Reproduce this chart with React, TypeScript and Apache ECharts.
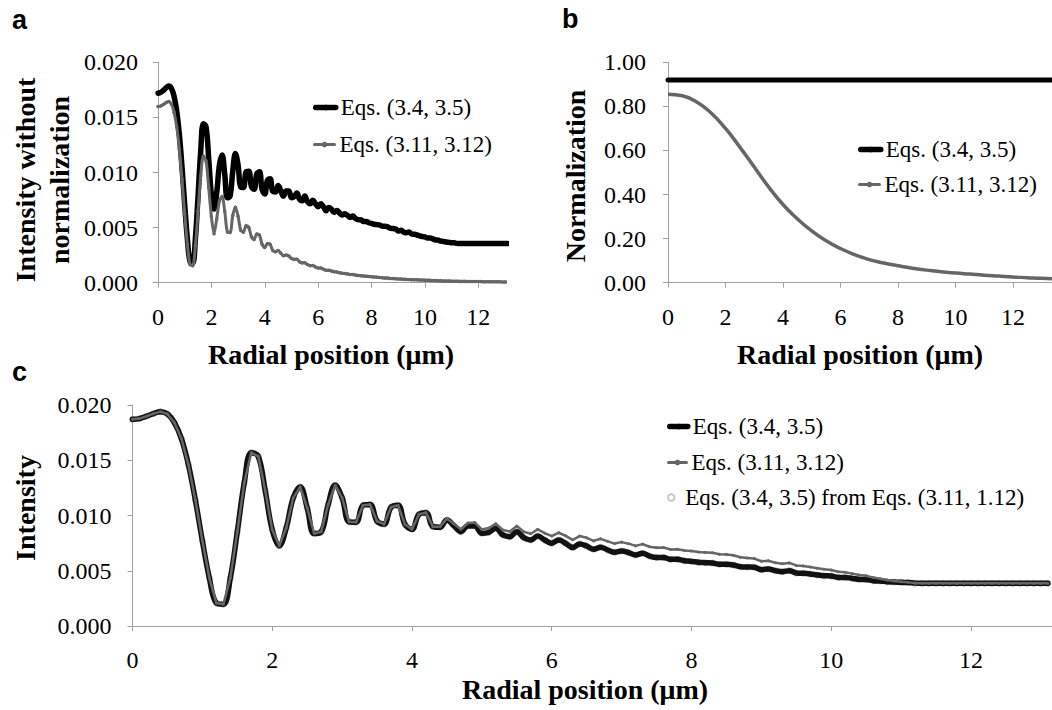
import React, { useEffect, useRef } from "react";
import * as echarts from "echarts";

// Radial positions (µm) for panels a and c
const RADIUS = [
  0, 0.1, 0.2, 0.3, 0.4, 0.5, 0.6, 0.7, 0.8, 0.9,
  1, 1.1, 1.2, 1.3, 1.4, 1.5, 1.6, 1.7, 1.8, 1.9,
  2, 2.1, 2.2, 2.3, 2.4, 2.5, 2.6, 2.7, 2.8, 2.9,
  3, 3.1, 3.2, 3.3, 3.4, 3.5, 3.6, 3.7, 3.8, 3.9,
  4, 4.1, 4.2, 4.3, 4.4, 4.5, 4.6, 4.7, 4.8, 4.9,
  5, 5.1, 5.2, 5.3, 5.4, 5.5, 5.6, 5.7, 5.8, 5.9,
  6, 6.1, 6.2, 6.3, 6.4, 6.5, 6.6, 6.7, 6.8, 6.9,
  7, 7.1, 7.2, 7.3, 7.4, 7.5, 7.6, 7.7, 7.8, 7.9,
  8, 8.1, 8.2, 8.3, 8.4, 8.5, 8.6, 8.7, 8.8, 8.9,
  9, 9.1, 9.2, 9.3, 9.4, 9.5, 9.6, 9.7, 9.8, 9.9,
  10, 10.1, 10.2, 10.3, 10.4, 10.5, 10.6, 10.7, 10.8, 10.9,
  11, 11.1, 11.2, 11.3, 11.4, 11.5, 11.6, 11.7, 11.8, 11.9,
  12, 12.1, 12.2, 12.3, 12.4, 12.5, 12.6, 12.7, 12.8, 12.9,
  13, 13.1,
];

// Panel a: intensity without normalization, Eqs. (3.4, 3.5)
const A_EQ34 = [
  0.01720, 0.01727, 0.01746, 0.01768, 0.01785, 0.01765, 0.01693, 0.01560, 0.01344, 0.01048,
  0.00709, 0.00399, 0.00191, 0.00180, 0.00399, 0.00784, 0.01194, 0.01443, 0.01413, 0.01125,
  0.00800, 0.00668, 0.00815, 0.01067, 0.01158, 0.00983, 0.00770, 0.00784, 0.01011, 0.01172,
  0.01067, 0.00868, 0.00865, 0.01006, 0.01011, 0.00873, 0.00848, 0.00989, 0.01006, 0.00845,
  0.00805, 0.00930, 0.00944, 0.00827, 0.00822, 0.00882, 0.00835, 0.00786, 0.00833, 0.00833,
  0.00772, 0.00780, 0.00813, 0.00758, 0.00743, 0.00786, 0.00735, 0.00716, 0.00749, 0.00716,
  0.00690, 0.00716, 0.00688, 0.00653, 0.00683, 0.00666, 0.00638, 0.00655, 0.00633, 0.00614,
  0.00625, 0.00611, 0.00592, 0.00605, 0.00582, 0.00571, 0.00571, 0.00555, 0.00555, 0.00544,
  0.00538, 0.00530, 0.00527, 0.00524, 0.00513, 0.00513, 0.00508, 0.00494, 0.00491, 0.00489,
  0.00469, 0.00475, 0.00461, 0.00453, 0.00461, 0.00442, 0.00439, 0.00433, 0.00425, 0.00419,
  0.00416, 0.00405, 0.00405, 0.00397, 0.00388, 0.00386, 0.00377, 0.00374, 0.00369, 0.00366,
  0.00363, 0.00362, 0.00357, 0.00355, 0.00355, 0.00355, 0.00355, 0.00355, 0.00355, 0.00355,
  0.00355, 0.00355, 0.00355, 0.00355, 0.00355, 0.00355, 0.00355, 0.00355, 0.00355, 0.00355,
  0.00355, 0.00355,
];

// Panel a: intensity without normalization, Eqs. (3.11, 3.12)
const A_EQ311 = [
  0.01599, 0.01603, 0.01617, 0.01634, 0.01645, 0.01622, 0.01546, 0.01414, 0.01210, 0.00936,
  0.00628, 0.00349, 0.00165, 0.00154, 0.00335, 0.00648, 0.00970, 0.01150, 0.01104, 0.00862,
  0.00600, 0.00445, 0.00581, 0.00741, 0.00783, 0.00647, 0.00460, 0.00455, 0.00609, 0.00684,
  0.00603, 0.00475, 0.00459, 0.00516, 0.00501, 0.00418, 0.00392, 0.00441, 0.00432, 0.00349,
  0.00319, 0.00356, 0.00348, 0.00293, 0.00281, 0.00292, 0.00268, 0.00245, 0.00252, 0.00243,
  0.00219, 0.00213, 0.00213, 0.00191, 0.00180, 0.00181, 0.00165, 0.00154, 0.00156, 0.00143,
  0.00133, 0.00133, 0.00123, 0.00113, 0.00113, 0.00106, 0.00099, 0.00098, 0.00091, 0.00086,
  0.00083, 0.00080, 0.00075, 0.00074, 0.00069, 0.00066, 0.00064, 0.00061, 0.00059, 0.00057,
  0.00054, 0.00052, 0.00050, 0.00048, 0.00045, 0.00043, 0.00042, 0.00039, 0.00038, 0.00036,
  0.00033, 0.00033, 0.00031, 0.00030, 0.00029, 0.00027, 0.00027, 0.00026, 0.00025, 0.00024,
  0.00023, 0.00022, 0.00021, 0.00020, 0.00019, 0.00018, 0.00017, 0.00016, 0.00015, 0.00015,
  0.00014, 0.00013, 0.00013, 0.00012, 0.00012, 0.00012, 0.00011, 0.00011, 0.00010, 0.00010,
  0.00010, 0.00010, 0.00009, 0.00009, 0.00009, 0.00008, 0.00008, 0.00008, 0.00008, 0.00007,
  0.00007, 0.00007,
];

// Panel b: normalization
const NORM_X = [
  0, 0.5, 1, 1.5, 2, 2.5, 3, 3.5, 4, 4.5, 5, 5.5, 6, 6.5,
  7, 7.5, 8, 8.5, 9, 9.5, 10, 10.5, 11, 11.5, 12, 12.5, 13, 13.5,
];
const NORM_EQ34 = [
  0.92, 0.92, 0.92, 0.92, 0.92, 0.92, 0.92, 0.92, 0.92, 0.92, 0.92, 0.92, 0.92, 0.92,
  0.92, 0.92, 0.92, 0.92, 0.92, 0.92, 0.92, 0.92, 0.92, 0.92, 0.92, 0.92, 0.92, 0.92,
];
const NORM_EQ311 = [
  0.855, 0.848, 0.82, 0.77, 0.70, 0.615, 0.525, 0.435, 0.355, 0.29, 0.235, 0.19, 0.155, 0.127,
  0.105, 0.089, 0.077, 0.066, 0.057, 0.05, 0.044, 0.039, 0.034, 0.03, 0.026, 0.023, 0.02, 0.018,
];

// Panel c: normalized intensity, Eqs. (3.4, 3.5) (also the values recovered from Eqs. (3.11, 1.12))
const C_EQ34 = [
  0.01870, 0.01877, 0.01898, 0.01922, 0.01940, 0.01919, 0.01840, 0.01696, 0.01461, 0.01139,
  0.00771, 0.00434, 0.00208, 0.00196, 0.00434, 0.00852, 0.01298, 0.01569, 0.01536, 0.01223,
  0.00870, 0.00726, 0.00886, 0.01160, 0.01259, 0.01069, 0.00837, 0.00852, 0.01099, 0.01274,
  0.01160, 0.00943, 0.00940, 0.01093, 0.01099, 0.00949, 0.00922, 0.01075, 0.01093, 0.00919,
  0.00875, 0.01011, 0.01026, 0.00899, 0.00893, 0.00959, 0.00908, 0.00854, 0.00905, 0.00905,
  0.00839, 0.00848, 0.00884, 0.00824, 0.00808, 0.00854, 0.00799, 0.00778, 0.00814, 0.00778,
  0.00750, 0.00778, 0.00748, 0.00710, 0.00742, 0.00724, 0.00694, 0.00712, 0.00688, 0.00667,
  0.00679, 0.00664, 0.00643, 0.00658, 0.00633, 0.00621, 0.00621, 0.00603, 0.00603, 0.00591,
  0.00585, 0.00576, 0.00573, 0.00570, 0.00558, 0.00558, 0.00552, 0.00537, 0.00534, 0.00531,
  0.00510, 0.00516, 0.00501, 0.00492, 0.00501, 0.00480, 0.00477, 0.00471, 0.00462, 0.00455,
  0.00452, 0.00440, 0.00440, 0.00431, 0.00422, 0.00420, 0.00410, 0.00407, 0.00401, 0.00398,
  0.00395, 0.00393, 0.00388, 0.00386, 0.00386, 0.00386, 0.00386, 0.00386, 0.00386, 0.00386,
  0.00386, 0.00386, 0.00386, 0.00386, 0.00386, 0.00386, 0.00386, 0.00386, 0.00386, 0.00386,
  0.00386, 0.00386,
];

// Panel c: normalized intensity, Eqs. (3.11, 3.12)
const C_EQ311 = [
  0.01870, 0.01877, 0.01898, 0.01922, 0.01940, 0.01919, 0.01840, 0.01696, 0.01461, 0.01139,
  0.00771, 0.00434, 0.00208, 0.00196, 0.00434, 0.00852, 0.01298, 0.01569, 0.01536, 0.01223,
  0.00870, 0.00726, 0.00886, 0.01160, 0.01259, 0.01069, 0.00837, 0.00852, 0.01099, 0.01274,
  0.01160, 0.00943, 0.00940, 0.01093, 0.01099, 0.00949, 0.00922, 0.01075, 0.01093, 0.00919,
  0.00875, 0.01011, 0.01026, 0.00899, 0.00898, 0.00972, 0.00925, 0.00876, 0.00932, 0.00936,
  0.00874, 0.00886, 0.00926, 0.00869, 0.00856, 0.00905, 0.00853, 0.00835, 0.00874, 0.00840,
  0.00814, 0.00844, 0.00816, 0.00780, 0.00814, 0.00798, 0.00770, 0.00789, 0.00766, 0.00746,
  0.00759, 0.00745, 0.00725, 0.00741, 0.00717, 0.00709, 0.00710, 0.00693, 0.00694, 0.00683,
  0.00678, 0.00669, 0.00666, 0.00662, 0.00649, 0.00648, 0.00640, 0.00622, 0.00616, 0.00610,
  0.00586, 0.00590, 0.00573, 0.00563, 0.00571, 0.00548, 0.00543, 0.00534, 0.00523, 0.00513,
  0.00507, 0.00491, 0.00487, 0.00474, 0.00461, 0.00455, 0.00438, 0.00428, 0.00416, 0.00407,
  0.00400, 0.00395, 0.00388, 0.00386, 0.00386, 0.00386, 0.00386, 0.00386, 0.00386, 0.00386,
  0.00386, 0.00386, 0.00386, 0.00386, 0.00386, 0.00386, 0.00386, 0.00386, 0.00386, 0.00386,
  0.00386, 0.00386,
];

const X_TICKS = [0, 2, 4, 6, 8, 10, 12];

const S1 = "Eqs. (3.4, 3.5)";
const S2 = "Eqs. (3.11, 3.12)";
const S3 = "Eqs. (3.4, 3.5) from Eqs. (3.11, 1.12)";

const SERIF = "Liberation Serif";
const SANS = "Liberation Sans";
const AXIS_COLOR = "#a0a0a0";
const GRAY = "#666666";

const pairs = (xs: number[], ys: number[]) => xs.map((x, i) => [x, ys[i]]);

function xAxisFor(gridIndex: number, max: number) {
  return {
    type: "value",
    gridIndex,
    min: 0,
    max,
    axisLine: { show: true, lineStyle: { color: AXIS_COLOR, width: 1 } },
    axisTick: { show: true, length: 5, lineStyle: { color: AXIS_COLOR }, customValues: X_TICKS },
    axisLabel: { color: "#000", fontFamily: SERIF, fontSize: 24, margin: 22, customValues: X_TICKS },
    splitLine: { show: false },
  };
}

function yAxisFor(gridIndex: number, max: number, interval: number, digits: number, margin: number) {
  return {
    type: "value",
    gridIndex,
    min: 0,
    max,
    interval,
    axisLine: { show: true, lineStyle: { color: AXIS_COLOR, width: 1 } },
    axisTick: { show: true, length: 5, lineStyle: { color: AXIS_COLOR } },
    axisLabel: {
      color: "#000",
      fontFamily: SERIF,
      fontSize: 24,
      margin,
      formatter: (v: number) => v.toFixed(digits),
    },
    splitLine: { show: false },
  };
}

function legendItem(name: string, left: number, centerY: number, itemWidth: number, itemHeight: number) {
  return {
    data: [name],
    left,
    top: centerY - 12,
    orient: "vertical",
    padding: 0,
    itemWidth,
    itemHeight,
    itemGap: 0,
    selectedMode: false,
    lineStyle: { width: "inherit", cap: "round" },
    textStyle: { color: "#000", fontFamily: SERIF, fontSize: 23 },
  };
}

function textEl(text: string, x: number, y: number, size: number, family: string, rotate = false, align = "center") {
  return {
    type: "text",
    x,
    y,
    rotation: rotate ? Math.PI / 2 : 0,
    style: {
      text,
      fill: "#000",
      fontFamily: family,
      fontSize: size,
      fontWeight: "bold",
      align,
      verticalAlign: "middle",
    },
  };
}

export default function App() {
  const ref = useRef<HTMLDivElement>(null);

  useEffect(() => {
    if (!ref.current) return;
    const chart = echarts.init(ref.current, null, { renderer: "svg" });

    const blackLine = { color: "#000", width: 5, cap: "round", join: "round" };
    const grayLine = { color: GRAY, width: 2.5 };

    const option: any = {
      animation: false,
      backgroundColor: "#fff",
      textStyle: { fontFamily: SERIF },
      grid: [
        { left: 158, top: 62.3, width: 347, height: 220.4, outerBoundsMode: "none" },
        { left: 668, top: 62.3, width: 384, height: 220.4, outerBoundsMode: "none" },
        { left: 132.5, top: 405, width: 919.5, height: 221, outerBoundsMode: "none" },
      ],
      xAxis: [xAxisFor(0, 13), xAxisFor(1, 13.36), xAxisFor(2, 13.16)],
      yAxis: [
        yAxisFor(0, 0.02, 0.005, 3, 20),
        yAxisFor(1, 1, 0.2, 2, 22),
        yAxisFor(2, 0.02, 0.005, 3, 21),
      ],
      legend: [
        legendItem(S1, 313, 108, 20, 7),
        legendItem(S2, 313, 145, 20, 7),
        legendItem(S1, 858, 150, 20, 7),
        legendItem(S2, 858, 185, 20, 7),
        legendItem(S1, 667, 427, 18, 7),
        legendItem(S2, 667, 463, 18, 7),
        legendItem(S3, 667, 498, 18, 6.5),
      ],
      series: [
        // panel a
        {
          name: S1, type: "line", xAxisIndex: 0, yAxisIndex: 0,
          data: pairs(RADIUS, A_EQ34), symbol: "none", smooth: 0.4,
          lineStyle: { color: "#000", width: 5.5, cap: "round", join: "round" }, itemStyle: { color: "#000" },
        },
        {
          name: S2, type: "line", xAxisIndex: 0, yAxisIndex: 0,
          data: pairs(RADIUS, A_EQ311), symbol: "circle", symbolSize: 3.5, smooth: 0.3,
          lineStyle: { color: GRAY, width: 3 }, itemStyle: { color: GRAY },
        },
        // panel b
        {
          name: S1, type: "line", xAxisIndex: 1, yAxisIndex: 1,
          data: pairs(NORM_X, NORM_EQ34), symbol: "none",
          lineStyle: blackLine, itemStyle: { color: "#000" },
        },
        {
          name: S2, type: "line", xAxisIndex: 1, yAxisIndex: 1,
          data: pairs(NORM_X, NORM_EQ311), symbol: "circle", symbolSize: 3, showSymbol: false, smooth: 0.5,
          lineStyle: { color: GRAY, width: 3.5 }, itemStyle: { color: GRAY },
        },
        // panel c
        {
          name: S1, type: "line", xAxisIndex: 2, yAxisIndex: 2,
          data: pairs(RADIUS, C_EQ34), symbol: "none", smooth: 0.4,
          lineStyle: { color: "#111", width: 5.5, cap: "round", join: "round" }, itemStyle: { color: "#000" },
        },
        {
          name: S2, type: "line", xAxisIndex: 2, yAxisIndex: 2,
          data: pairs(RADIUS, C_EQ311), symbol: "circle", symbolSize: 3,
          lineStyle: grayLine, itemStyle: { color: GRAY },
        },
        {
          name: S3, type: "scatter", xAxisIndex: 2, yAxisIndex: 2,
          data: pairs(RADIUS, C_EQ34), symbol: "circle", symbolSize: 4.4,
          itemStyle: { color: "rgba(0,0,0,0)", borderColor: "#bcbcbc", borderWidth: 2.6 },
        },
      ],
      graphic: [
        textEl("a", 12, 20, 27, SANS, false, "left"),
        textEl("b", 562, 19, 27, SANS, false, "left"),
        textEl("c", 12, 372, 27, SANS, false, "left"),
        textEl("Intensity without", 25, 180, 28, SERIF, true),
        textEl("normalization", 59, 180, 28, SERIF, true),
        textEl("Normalization", 575, 176, 28, SERIF, true),
        textEl("Intensity", 25, 508, 28, SERIF, true),
        textEl("Radial position (μm)", 331, 354, 28, SERIF),
        textEl("Radial position (μm)", 860, 354, 28, SERIF),
        textEl("Radial position (μm)", 585, 689, 28, SERIF),
      ],
    };

    chart.setOption(option);
    return () => chart.dispose();
  }, []);

  return (
    <div
      ref={ref}
      style={{ position: "absolute", left: 0, top: 0, width: 1052, height: 710, background: "#fff" }}
    />
  );
}
